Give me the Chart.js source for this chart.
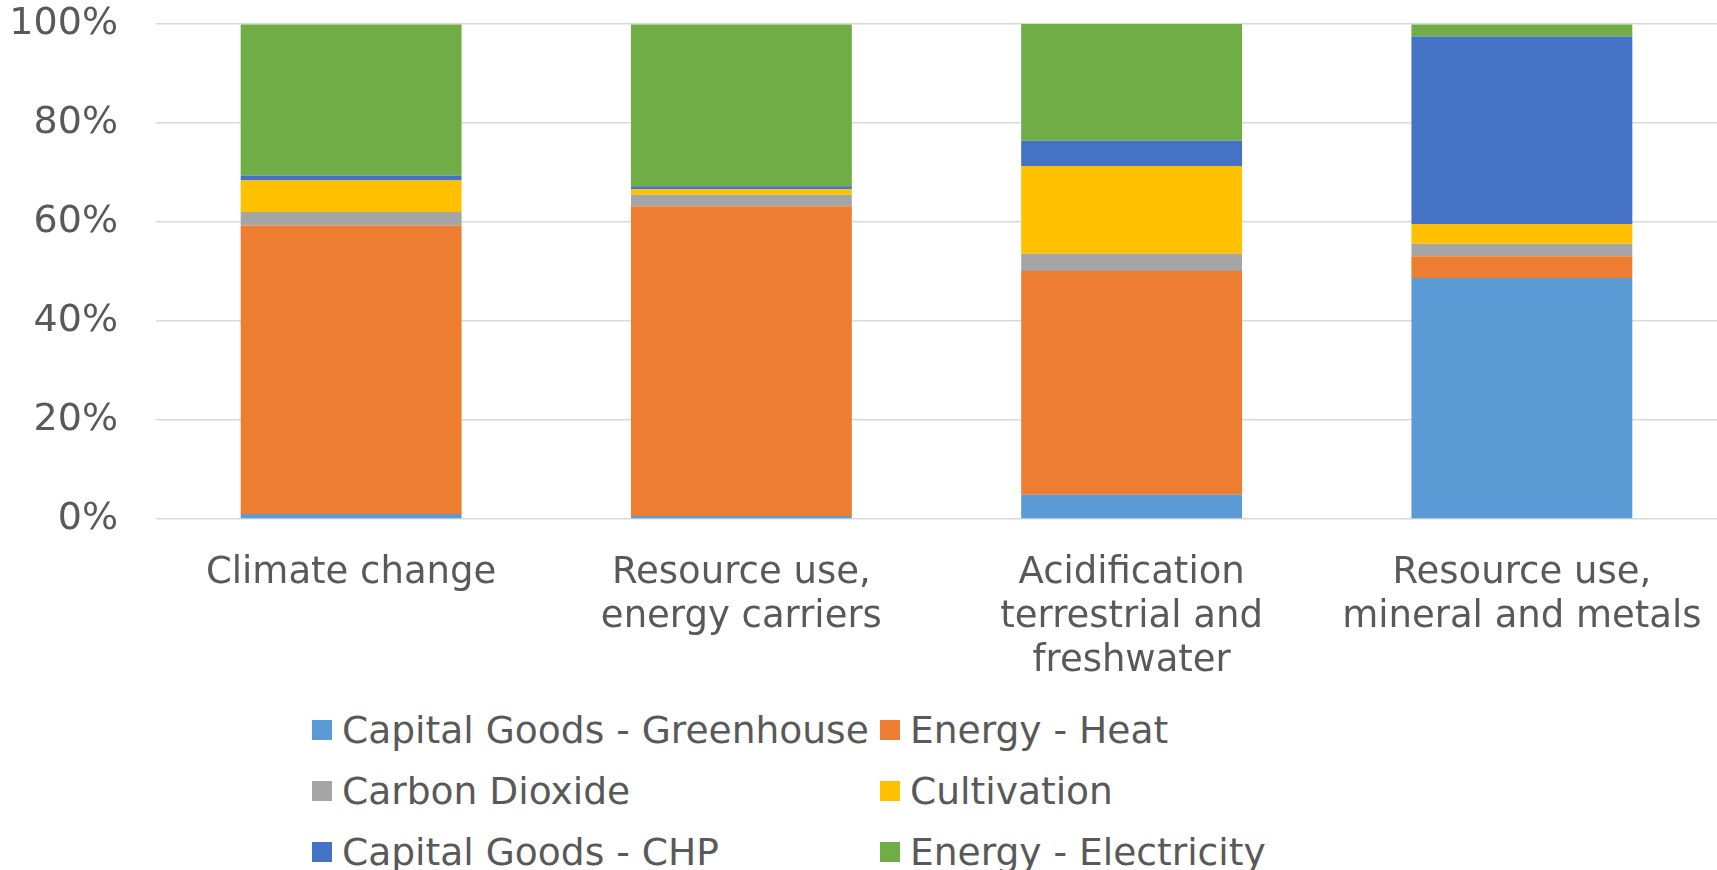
<!DOCTYPE html>
<html>
<head>
<meta charset="utf-8">
<script src="https://cdn.jsdelivr.net/npm/chart.js@4/dist/chart.umd.min.js"></script>
<style>
    body { margin: 0; background: #fff; overflow: hidden; }
    #wrap { position: relative; width: 1717px; height: 870px; }
    #chartBox { position: absolute; left: 0; top: 0; width: 1717px; height: 690px; }
    #legend {
        position: absolute; left: 312px; top: 699px;
        display: grid; grid-template-columns: 568px 568px; grid-auto-rows: 61px;
        font-family: Verdana, "DejaVu Sans", sans-serif; font-size: 37.6px; color: #595959;
    }
    #legend .item { display: flex; align-items: center; white-space: nowrap; }
    #legend .box { width: 20px; height: 20px; margin-right: 10px; flex: none; }
</style>
</head>
<body>
<div id="wrap">
    <div id="chartBox"><canvas id="myChart"></canvas></div>
    <div id="legend"></div>
</div>
<script>
// categories (impact categories)
const categories = [
    ['Climate change'],
    ['Resource use,', 'energy carriers'],
    ['Acidification', 'terrestrial and', 'freshwater'],
    ['Resource use,', 'mineral and metals']
];

// share of each contributor, in %
const greenhouse = [1.0, 0.6, 4.9, 48.7];
const heat = [58.3, 62.6, 45.2, 4.4];
const carbonDioxide = [2.7, 2.3, 3.5, 2.5];
const cultivation = [6.4, 1.1, 17.7, 4.0];
const chp = [1.0, 0.6, 5.1, 37.9];
const electricity = [30.5, 32.7, 23.6, 2.4];

const yTicks = [0, 20, 40, 60, 80, 100];

const series = [
    { label: 'Capital Goods - Greenhouse', data: greenhouse, color: '#5B9BD5' },
    { label: 'Energy - Heat', data: heat, color: '#ED7D31' },
    { label: 'Carbon Dioxide', data: carbonDioxide, color: '#A5A5A5' },
    { label: 'Cultivation', data: cultivation, color: '#FFC000' },
    { label: 'Capital Goods - CHP', data: chp, color: '#4472C4' },
    { label: 'Energy - Electricity', data: electricity, color: '#70AD47' }
];

const fontFamily = 'Verdana, "DejaVu Sans", sans-serif';
const textColor = '#595959';

const ctx = document.getElementById('myChart').getContext('2d');

const chart = new Chart(ctx, {
    type: 'bar',
    data: {
        labels: categories,
        datasets: series.map(s => ({
            label: s.label,
            data: s.data,
            backgroundColor: s.color,
            borderWidth: 0,
            categoryPercentage: 1,
            barPercentage: 0.566
        }))
    },
    options: {
        responsive: true,
        maintainAspectRatio: false,
        animation: false,
        layout: { padding: { top: 24, right: 0, bottom: 0, left: 0 } },
        plugins: {
            legend: { display: false },
            tooltip: { enabled: false }
        },
        scales: {
            x: {
                stacked: true,
                afterFit: scale => {
                    // fixed height, and no extra side padding for the long last label
                    scale.height = 171;
                    scale.paddingLeft = 0;
                    scale.paddingRight = 0;
                },
                grid: { display: false, drawTicks: false },
                border: { display: false },
                ticks: {
                    color: textColor,
                    font: { family: fontFamily, size: 37, lineHeight: 1.19 },
                    padding: 32,
                    maxRotation: 0,
                    autoSkip: false
                }
            },
            y: {
                stacked: true,
                min: 0,
                max: 100,
                afterBuildTicks: scale => {
                    scale.ticks = yTicks.map(v => ({ value: v }));
                },
                afterFit: scale => {
                    scale.width = 156;
                    scale.paddingTop = 0;
                    scale.paddingBottom = 0;
                },
                grid: { color: '#D9D9D9', lineWidth: 1.5, drawTicks: false },
                border: { display: false },
                ticks: {
                    color: textColor,
                    font: { family: fontFamily, size: 38 },
                    padding: 38,
                    callback: v => v + '%'
                }
            }
        }
    }
});

// Legend laid out in two columns like the original
const legendEl = document.getElementById('legend');
chart.data.datasets.forEach(ds => {
    const item = document.createElement('div');
    item.className = 'item';
    const box = document.createElement('span');
    box.className = 'box';
    box.style.background = ds.backgroundColor;
    const txt = document.createElement('span');
    txt.textContent = ds.label;
    item.appendChild(box);
    item.appendChild(txt);
    legendEl.appendChild(item);
});
</script>
</body>
</html>
